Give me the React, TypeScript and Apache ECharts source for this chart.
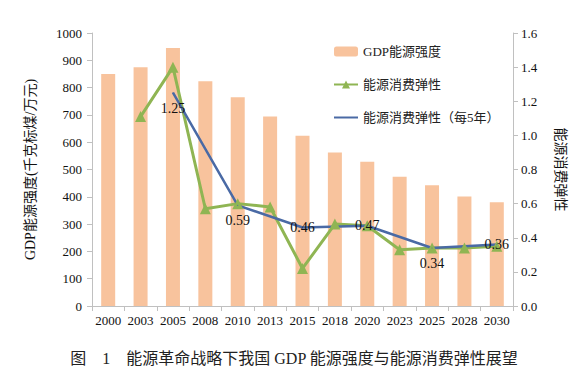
import React, { useEffect, useRef } from "react";
import * as echarts from "echarts";

const categories = ["2000", "2003", "2005", "2008", "2010", "2013", "2015", "2018", "2020", "2023", "2025", "2028", "2030"];
const gdpIntensity = [850, 875, 945, 823, 765, 694, 624, 562, 528, 473, 442, 401, 380];
const elasticity = [null, 1.11, 1.40, 0.57, 0.60, 0.58, 0.22, 0.48, 0.47, 0.33, 0.34, 0.34, 0.35];
const elasticity5y = [null, null, 1.25, null, 0.59, null, 0.46, null, 0.47, null, 0.34, null, 0.36];
const labelPos = [null, null, "bottom", null, "bottom", null, "inside", null, "inside", null, "bottom", null, "inside"];
const leftTicks = { min: 0, max: 1000, interval: 100 };
const rightTicks = { min: 0, max: 1.6, interval: 0.2 };
const titleText = "图\u30001\u3000能源革命战略下我国 GDP 能源强度与能源消费弹性展望";

const SERIF = "'Liberation Serif', 'Noto Sans CJK SC', serif";
const AXIS_COLOR = "#c0c0c0";

export default function App() {
  const ref = useRef<HTMLDivElement>(null);
  useEffect(() => {
    if (!ref.current) return;
    const chart = echarts.init(ref.current, undefined, { renderer: "svg" });
    const blueData = elasticity5y.map((v, i) =>
      v === null
        ? null
        : {
            value: v,
            label: {
              show: true,
              position: labelPos[i] as any,
              distance: 8,
              formatter: (p: any) => Number(p.value).toFixed(2),
            },
          }
    );
    chart.setOption({
      animation: false,
      textStyle: { fontFamily: SERIF },
      title: {
        text: titleText,
        left: "center",
        top: 345,
        textStyle: { fontFamily: SERIF, fontSize: 16, fontWeight: "normal", color: "#222" },
      },
      legend: {
        orient: "vertical",
        left: 328,
        top: 40,
        itemGap: 20,
        itemWidth: 24,
        itemHeight: 10,
        textStyle: { fontFamily: SERIF, fontSize: 13, color: "#222" },
        data: [
          "GDP能源强度",
          "能源消费弹性",
          { name: "能源消费弹性（每5年）", itemStyle: { opacity: 0 } },
        ],
      },
      grid: { left: 92, right: 75, top: 33, bottom: 71, containLabel: false },
      xAxis: {
        type: "category",
        data: categories,
        boundaryGap: true,
        axisLine: { lineStyle: { color: AXIS_COLOR } },
        axisTick: { show: true, alignWithLabel: false, lineStyle: { color: AXIS_COLOR } },
        axisLabel: { fontFamily: SERIF, fontSize: 13, color: "#111", margin: 8, interval: 0 },
      },
      yAxis: [
        {
          type: "value",
          ...leftTicks,
          name: "GDP能源强度(千克标煤/万元)",
          nameLocation: "middle",
          nameGap: 55,
          nameRotate: 90,
          nameTextStyle: { fontFamily: SERIF, fontSize: 14, color: "#111" },
          splitLine: { show: false },
          axisLine: { show: true, lineStyle: { color: AXIS_COLOR } },
          axisTick: { show: true, lineStyle: { color: AXIS_COLOR } },
          axisLabel: {
            fontFamily: SERIF,
            fontSize: 13,
            color: "#111",
            margin: 10,
            formatter: (v: number) => String(v),
          },
        },
        {
          type: "value",
          ...rightTicks,
          position: "right",
          name: "能源消费弹性",
          nameLocation: "middle",
          nameGap: 41,
          nameRotate: -90,
          nameTextStyle: { fontFamily: SERIF, fontSize: 14, color: "#111" },
          splitLine: { show: false },
          axisLine: { show: true, lineStyle: { color: AXIS_COLOR } },
          axisTick: { show: true, lineStyle: { color: AXIS_COLOR } },
          axisLabel: {
            fontFamily: SERIF,
            fontSize: 13,
            color: "#111",
            margin: 8,
            formatter: (v: number) => v.toFixed(1),
          },
        },
      ],
      series: [
        {
          name: "GDP能源强度",
          type: "bar",
          data: gdpIntensity,
          barWidth: 14,
          itemStyle: { color: "#F8C39D" },
          yAxisIndex: 0,
        },
        {
          name: "能源消费弹性",
          type: "line",
          yAxisIndex: 1,
          data: elasticity,
          symbol: "triangle",
          symbolSize: 11,
          lineStyle: { color: "#8FB553", width: 3 },
          itemStyle: { color: "#8FB553" },
        },
        {
          name: "能源消费弹性（每5年）",
          type: "line",
          yAxisIndex: 1,
          data: blueData,
          connectNulls: true,
          symbol: "circle",
          symbolSize: 1,
          lineStyle: { color: "#4A6AA5", width: 2.5 },
          itemStyle: { color: "#4A6AA5" },
          label: { fontFamily: SERIF, fontSize: 14, color: "#111" },
          z: 3,
        },
      ],
    });
    return () => chart.dispose();
  }, []);
  return <div ref={ref} style={{ width: 588, height: 377, position: "absolute", left: 0, top: 0, background: "#fff" }} />;
}
